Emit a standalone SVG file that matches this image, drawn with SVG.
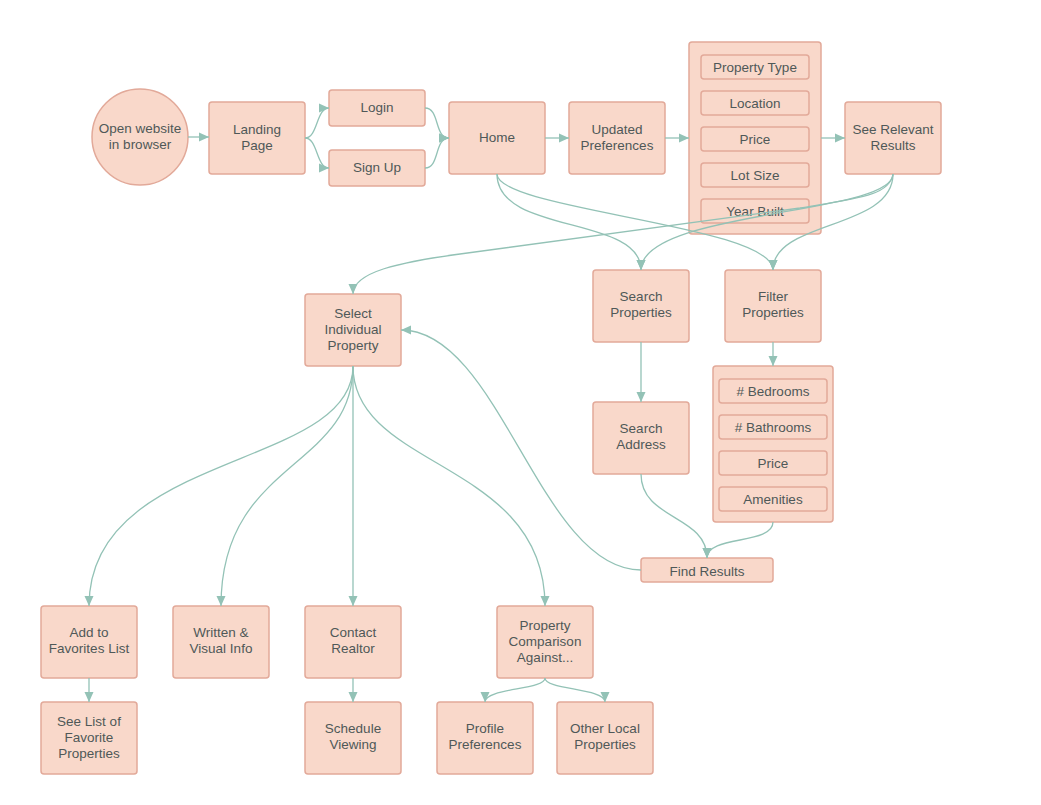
<svg xmlns="http://www.w3.org/2000/svg" width="1041" height="805" viewBox="0 0 1041 805">
<style>
.n{fill:#f9d8ca;stroke:#e2a999;stroke-width:1.5}
.i{fill:#f9d8ca;stroke:#e2a999;stroke-width:1.5}
text{font-family:"Liberation Sans",Arial,sans-serif;font-size:13.5px;fill:#4f5858;text-anchor:middle;dominant-baseline:central}
.c path{fill:none;stroke:#93c2b6;stroke-width:1.3}
</style>
<defs>
<marker id="a" markerUnits="userSpaceOnUse" markerWidth="11" markerHeight="10" refX="10" refY="5" orient="auto">
<path d="M0,0.5 L10,5 L0,9.5 z" fill="#93c2b6"/>
</marker>
</defs>
<rect width="1041" height="805" fill="#ffffff"/>
<g id="open"><circle class="n" cx="140" cy="137" r="48"/><text x="140" y="128">Open website</text><text x="140" y="144">in browser</text></g>
<g id="landing"><rect class="n" x="209" y="102" width="96" height="72" rx="3"/><text x="257" y="129">Landing</text><text x="257" y="145">Page</text></g>
<g id="login"><rect class="n" x="329" y="90" width="96" height="36" rx="3"/><text x="377" y="107">Login</text></g>
<g id="signup"><rect class="n" x="329" y="150" width="96" height="36" rx="3"/><text x="377" y="167">Sign Up</text></g>
<g id="home"><rect class="n" x="449" y="102" width="96" height="72" rx="3"/><text x="497" y="137">Home</text></g>
<g id="updated"><rect class="n" x="569" y="102" width="96" height="72" rx="3"/><text x="617" y="129">Updated</text><text x="617" y="145">Preferences</text></g>
<g id="prefs">
<rect class="n" x="689" y="42" width="132" height="192" rx="3"/>
<rect class="i" x="701" y="55" width="108" height="24" rx="3"/><text x="755" y="67">Property Type</text>
<rect class="i" x="701" y="91" width="108" height="24" rx="3"/><text x="755" y="103">Location</text>
<rect class="i" x="701" y="127" width="108" height="24" rx="3"/><text x="755" y="139">Price</text>
<rect class="i" x="701" y="163" width="108" height="24" rx="3"/><text x="755" y="175">Lot Size</text>
<rect class="i" x="701" y="199" width="108" height="24" rx="3"/><text x="755" y="211">Year Built</text>
</g>
<g id="relevant"><rect class="n" x="845" y="102" width="96" height="72" rx="3"/><text x="893" y="129">See Relevant</text><text x="893" y="145">Results</text></g>
<g id="select"><rect class="n" x="305" y="294" width="96" height="72" rx="3"/><text x="353" y="313">Select</text><text x="353" y="329">Individual</text><text x="353" y="345">Property</text></g>
<g id="search"><rect class="n" x="593" y="270" width="96" height="72" rx="3"/><text x="641" y="296">Search</text><text x="641" y="312">Properties</text></g>
<g id="filter"><rect class="n" x="725" y="270" width="96" height="72" rx="3"/><text x="773" y="296">Filter</text><text x="773" y="312">Properties</text></g>
<g id="address"><rect class="n" x="593" y="402" width="96" height="72" rx="3"/><text x="641" y="428">Search</text><text x="641" y="444">Address</text></g>
<g id="filters">
<rect class="n" x="713" y="366" width="120" height="156" rx="3"/>
<rect class="i" x="719" y="379" width="108" height="24" rx="3"/><text x="773" y="391"># Bedrooms</text>
<rect class="i" x="719" y="415" width="108" height="24" rx="3"/><text x="773" y="427"># Bathrooms</text>
<rect class="i" x="719" y="451" width="108" height="24" rx="3"/><text x="773" y="463">Price</text>
<rect class="i" x="719" y="487" width="108" height="24" rx="3"/><text x="773" y="499">Amenities</text>
</g>
<g id="find"><rect class="n" x="641" y="558" width="132" height="24" rx="3"/><text x="707" y="571">Find Results</text></g>
<g id="fav"><rect class="n" x="41" y="606" width="96" height="72" rx="3"/><text x="89" y="632">Add to</text><text x="89" y="648">Favorites List</text></g>
<g id="written"><rect class="n" x="173" y="606" width="96" height="72" rx="3"/><text x="221" y="632">Written &amp;</text><text x="221" y="648">Visual Info</text></g>
<g id="contact"><rect class="n" x="305" y="606" width="96" height="72" rx="3"/><text x="353" y="632">Contact</text><text x="353" y="648">Realtor</text></g>
<g id="compare"><rect class="n" x="497" y="606" width="96" height="72" rx="3"/><text x="545" y="625">Property</text><text x="545" y="641">Comparison</text><text x="545" y="657">Against...</text></g>
<g id="favlist"><rect class="n" x="41" y="702" width="96" height="72" rx="3"/><text x="89" y="721">See List of</text><text x="89" y="737">Favorite</text><text x="89" y="753">Properties</text></g>
<g id="schedule"><rect class="n" x="305" y="702" width="96" height="72" rx="3"/><text x="353" y="728">Schedule</text><text x="353" y="744">Viewing</text></g>
<g id="profile"><rect class="n" x="437" y="702" width="96" height="72" rx="3"/><text x="485" y="728">Profile</text><text x="485" y="744">Preferences</text></g>
<g id="other"><rect class="n" x="557" y="702" width="96" height="72" rx="3"/><text x="605" y="728">Other Local</text><text x="605" y="744">Properties</text></g>
<g class="c">
<path d="M188 137 L209 137" marker-end="url(#a)"/>
<path d="M305 138 C318 138 316 108 329 108" marker-end="url(#a)"/>
<path d="M305 138 C318 138 316 168 329 168" marker-end="url(#a)"/>
<path d="M425 108 C440 108 434 138 449 138" marker-end="url(#a)"/>
<path d="M425 168 C440 168 434 138 449 138" marker-end="url(#a)"/>
<path d="M545 138 L569 138" marker-end="url(#a)"/>
<path d="M665 138 L689 138" marker-end="url(#a)"/>
<path d="M821 138 L845 138" marker-end="url(#a)"/>
<path d="M497 174 C497 235 641 215 641 270" marker-end="url(#a)"/>
<path d="M497 174 C497 210 773 225 773 270" marker-end="url(#a)"/>
<path d="M893 174 C893 215 641 210 641 270" marker-end="url(#a)"/>
<path d="M893 174 C893 230 773 220 773 270" marker-end="url(#a)"/>
<path d="M893 174 C890 195 860 198 800 208 L460 254 C400 262 353 272 353 294" marker-end="url(#a)"/>
<path d="M641 342 L641 402" marker-end="url(#a)"/>
<path d="M773 342 L773 366" marker-end="url(#a)"/>
<path d="M641 474 C641 520 707 515 707 558" marker-end="url(#a)"/>
<path d="M773 522 C773 545 707 535 707 558" marker-end="url(#a)"/>
<path d="M641 570 C540 570 500 330 401 330" marker-end="url(#a)"/>
<path d="M353 366 C353 470 89 450 89 606" marker-end="url(#a)"/>
<path d="M353 366 C353 470 221 460 221 606" marker-end="url(#a)"/>
<path d="M353 366 L353 606" marker-end="url(#a)"/>
<path d="M353 366 C353 470 545 460 545 606" marker-end="url(#a)"/>
<path d="M89 678 L89 702" marker-end="url(#a)"/>
<path d="M353 678 L353 702" marker-end="url(#a)"/>
<path d="M545 678 C545 690 485 688 485 702" marker-end="url(#a)"/>
<path d="M545 678 C545 690 605 688 605 702" marker-end="url(#a)"/>
</g>
</svg>
